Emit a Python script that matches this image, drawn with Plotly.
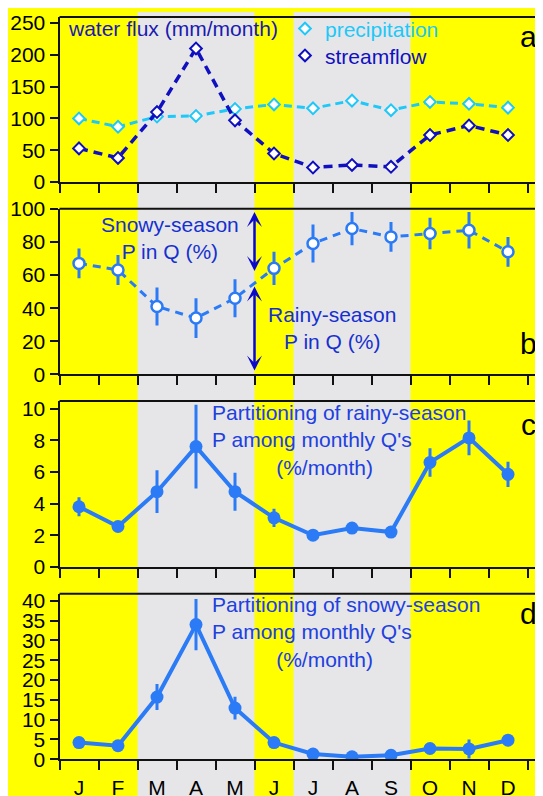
import plotly.graph_objects as go

# ---------------- data ----------------
months = ["J", "F", "M", "A", "M", "J", "J", "A", "S", "O", "N", "D"]
precip = [100, 87, 103, 104, 115, 122, 116, 128, 113, 126, 123, 117]
streamflow = [53, 38, 110, 210, 97, 45, 23, 27, 24, 74, 89, 74]

rain_frac = [67, 63, 41, 34, 46, 64, 79, 88, 83, 85, 87, 74]
rain_frac_err = [9, 9, 11.5, 12, 11.5, 10, 11.5, 10, 9, 9.5, 11, 9]

rain_part = [3.8, 2.55, 4.75, 7.6, 4.75, 3.1, 2.0, 2.45, 2.2, 6.6, 8.15, 5.85]
rain_part_err = [0.6, 0.25, 1.35, 2.65, 1.2, 0.58, 0.1, 0.15, 0.1, 0.9, 1.1, 0.8]

snow_part = [4.2, 3.4, 15.7, 34.0, 12.9, 4.2, 1.3, 0.6, 1.0, 2.7, 2.6, 4.8]
snow_part_err = [0.5, 0.5, 3.3, 6.5, 2.9, 0.5, 0.2, 0.1, 0.2, 0.8, 2.4, 0.9]

# seasonal shading: (start month index, end month index)
gray_bands = [(2, 5), (6, 9)]

# ---------------- styling ----------------
OFF = 8                      # page body margin
W, H = 535, 788              # figure size (visible part of the page)
FONT = "Liberation Sans, Arial, sans-serif"
CYAN = "#1EC8F8"
NAVY = "#1010C0"
BLUE = "#2B7BF7"
YELLOW = "#FFFF00"
GRAY = "#E6E6E9"
AX = "#111111"

x = [i + 0.5 for i in range(len(months))]

def fx(px):
    return (px - OFF) / W

def fy(py):
    return 1 - (py - OFF) / H

X_DOM = [fx(59.5), 1.0]
X_RANGE = [0, (543 - 59.5) / 39.0]

panels = [  # (top px, bottom px, yrange, dtick)  -- page pixel coords
    (13, 179, [0, 259.4], 50),
    (205.7, 372.3, [0, 100], 20),
    (399, 565.7, [0, 10.48], 2),
    (592.7, 759, [0, 41.8], 5),
]

fig = go.Figure()

# panel a
fig.add_trace(go.Scatter(x=x, y=precip, mode="lines+markers", xaxis="x", yaxis="y",
                         line=dict(color=CYAN, width=3, dash="8px,5px"),
                         marker=dict(symbol="diamond", size=9, color="white",
                                     line=dict(color=CYAN, width=2)),
                         showlegend=False))
fig.add_trace(go.Scatter(x=x, y=streamflow, mode="lines+markers", xaxis="x", yaxis="y",
                         line=dict(color=NAVY, width=3.5, dash="9px,6px"),
                         marker=dict(symbol="diamond", size=9, color="white",
                                     line=dict(color=NAVY, width=2)),
                         showlegend=False))
# legend-only entries
fig.add_trace(go.Scatter(x=[None], y=[None], mode="markers", xaxis="x", yaxis="y",
                         name="precipitation", legend="legend",
                         marker=dict(symbol="diamond", size=9, color="white",
                                     line=dict(color=CYAN, width=2))))
fig.add_trace(go.Scatter(x=[None], y=[None], mode="markers", xaxis="x", yaxis="y",
                         name="streamflow", legend="legend2",
                         marker=dict(symbol="diamond", size=9, color="white",
                                     line=dict(color=NAVY, width=2))))

# panel b
fig.add_trace(go.Scatter(x=x, y=rain_frac, mode="lines+markers", xaxis="x2", yaxis="y2",
                         line=dict(color=BLUE, width=3, dash="8px,6px"),
                         marker=dict(symbol="circle", size=11, color="white",
                                     line=dict(color=BLUE, width=2.5)),
                         error_y=dict(type="data", array=rain_frac_err, color=BLUE,
                                      thickness=3, width=0),
                         showlegend=False))
# panel c
fig.add_trace(go.Scatter(x=x, y=rain_part, mode="lines+markers", xaxis="x3", yaxis="y3",
                         line=dict(color=BLUE, width=4),
                         marker=dict(symbol="circle", size=13, color=BLUE),
                         error_y=dict(type="data", array=rain_part_err, color=BLUE,
                                      thickness=3, width=0),
                         showlegend=False))
# panel d
fig.add_trace(go.Scatter(x=x, y=snow_part, mode="lines+markers", xaxis="x4", yaxis="y4",
                         line=dict(color=BLUE, width=4),
                         marker=dict(symbol="circle", size=13, color=BLUE),
                         error_y=dict(type="data", array=snow_part_err, color=BLUE,
                                      thickness=3, width=0),
                         showlegend=False))

layout = dict(
    width=W, height=H,
    margin=dict(l=0, r=0, t=0, b=0),
    paper_bgcolor=YELLOW, plot_bgcolor="rgba(0,0,0,0)",
    font=dict(family=FONT, size=21, color="black"),
)

shapes = []
for a, b in gray_bands:
    shapes.append(dict(type="rect", xref="x", yref="paper", x0=a, x1=b, y0=0, y1=1,
                       fillcolor=GRAY, line=dict(width=0), layer="below"))

for i, (top, bot, yr, dt) in enumerate(panels):
    n = "" if i == 0 else str(i + 1)
    last = i == len(panels) - 1
    layout["xaxis" + n] = dict(
        domain=X_DOM, range=X_RANGE, anchor="y" + n,
        tickmode="array", tickvals=x, ticktext=months,
        ticks="", showticklabels=last, showgrid=False, zeroline=False,
        showline=True, linecolor=AX, linewidth=2,
        minor=dict(tickmode="array", tickvals=list(range(len(months) + 1)),
                   ticks="outside", ticklen=9, tickwidth=2, tickcolor=AX, showgrid=False),
        tickfont=dict(size=21, family=FONT, color="black"),
        ticklabelstandoff=9, automargin=False, fixedrange=True,
    )
    layout["yaxis" + n] = dict(
        domain=[fy(bot), fy(top)], range=yr, anchor="x" + n,
        tickmode="linear", tick0=0, dtick=dt,
        ticks="outside", ticklen=8, tickwidth=2, tickcolor=AX,
        showline=True, linecolor=AX, linewidth=2,
        showgrid=False, zeroline=False,
        tickfont=dict(size=21, family=FONT, color="black"),
        automargin=False, fixedrange=True,
    )
    shapes.append(dict(type="line", xref=("x" + n + " domain") if n else "x domain",
                       yref=("y" + n + " domain") if n else "y domain",
                       x0=0, x1=1, y0=1, y1=1, line=dict(color=AX, width=2)))

layout["shapes"] = shapes

layout["legend"] = dict(x=fx(285), y=fy(25), xanchor="left", yanchor="middle",
                        bgcolor="rgba(0,0,0,0)", borderwidth=0,
                        font=dict(size=21, family=FONT, color=CYAN))
layout["legend2"] = dict(x=fx(285), y=fy(52), xanchor="left", yanchor="middle",
                         bgcolor="rgba(0,0,0,0)", borderwidth=0,
                         font=dict(size=21, family=FONT, color=NAVY))

ann = []
ann.append(dict(text="water flux (mm/month)", xref="paper", yref="paper",
                x=fx(66), y=fy(25), xanchor="left", yanchor="middle", showarrow=False,
                font=dict(size=21, color="#1A1AB0", family=FONT)))
for lab, yc in zip(["a", "b", "c", "d"], [33, 341, 423, 613]):
    ann.append(dict(text=lab, xref="paper", yref="paper", x=fx(528), y=fy(yc),
                    xanchor="center", yanchor="middle", showarrow=False,
                    font=dict(size=30, color="black", family=FONT)))
ann.append(dict(text="Snowy-season<br>P in Q (%)", xref="paper", yref="paper",
                x=fx(170), y=fy(235.5), xanchor="center", yanchor="middle", align="center",
                showarrow=False, font=dict(size=21, color="#1530D0", family=FONT)))
ann.append(dict(text="Rainy-season<br>P in Q (%)", xref="paper", yref="paper",
                x=fx(332), y=fy(325.5), xanchor="center", yanchor="middle", align="center",
                showarrow=False, font=dict(size=21, color="#1530D0", family=FONT)))
ind = "\u00a0" * 11
ann.append(dict(text="Partitioning of rainy-season<br>P among monthly Q's<br>" + ind + "(%/month)",
                xref="paper", yref="paper", x=fx(210), y=fy(438.4), xanchor="left",
                yanchor="middle", align="left", showarrow=False,
                font=dict(size=21, color="#2040E0", family=FONT)))
ann.append(dict(text="Partitioning of snowy-season<br>P among monthly Q's<br>" + ind + "(%/month)",
                xref="paper", yref="paper", x=fx(210), y=fy(631.5), xanchor="left",
                yanchor="middle", align="left", showarrow=False,
                font=dict(size=21, color="#2040E0", family=FONT)))
# double-headed arrows in panel b
for y0, y1 in [(98, 61.5), (53, 1.5)]:
    ann.append(dict(text="", x=5, y=y0, ax=5, ay=y1, xref="x2", yref="y2",
                    axref="x2", ayref="y2", showarrow=True, arrowside="end+start",
                    arrowhead=3, startarrowhead=3, arrowsize=1.0, startarrowsize=1.0,
                    arrowwidth=2.5, arrowcolor="#0A0AC8"))
layout["annotations"] = ann

fig.update_layout(**layout)
fig.write_html("out.html")
